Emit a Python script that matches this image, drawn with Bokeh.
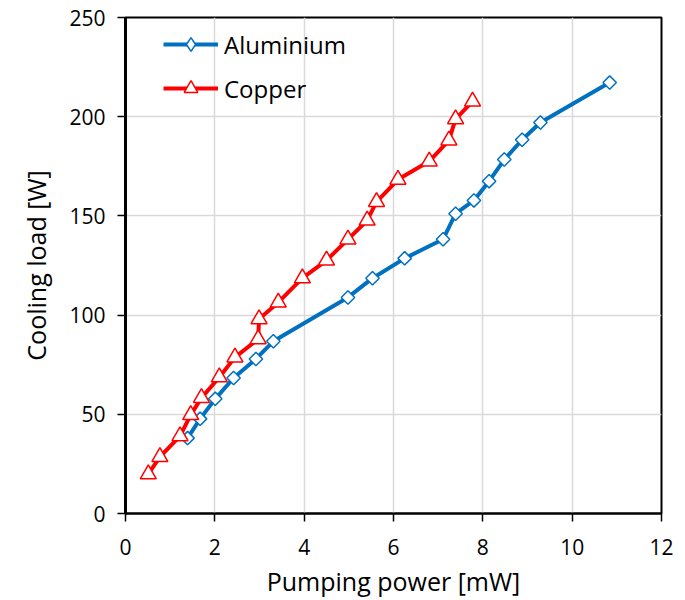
import math
from bokeh.plotting import figure
from bokeh.models import Legend, LegendItem, Range1d, FixedTicker, ColumnDataSource
from bokeh.embed import file_html
from bokeh.resources import INLINE

al_x = [1.39, 1.67, 2.01, 2.42, 2.92, 3.31, 4.98, 5.53, 6.25, 7.11, 7.39, 7.80, 8.14, 8.48, 8.88, 9.29, 10.84]
al_y = [38.0, 47.7, 57.8, 68.3, 77.9, 86.8, 108.9, 118.6, 128.6, 138.2, 151.1, 157.8, 167.5, 178.4, 188.4, 197.1, 217.2]

cu_x = [0.51, 0.77, 1.22, 1.46, 1.70, 2.10, 2.45, 2.97, 2.99, 3.42, 3.96, 4.50, 4.98, 5.41, 5.62, 6.10, 6.80, 7.24, 7.39, 7.77]
cu_y = [19.8, 28.5, 39.0, 49.7, 58.3, 68.7, 78.7, 87.9, 98.0, 106.4, 118.6, 127.6, 138.2, 147.7, 157.1, 168.3, 177.5, 188.1, 198.8, 207.7]

x_ticks = [0, 2, 4, 6, 8, 10, 12]
y_ticks = [0, 50, 100, 150, 200, 250]

FONT = "Open Sans"
BLUE = "#0070C0"
RED = "#FF0000"

p = figure(width=685, height=600, output_backend="svg", toolbar_location=None,
           x_range=Range1d(0, 12), y_range=Range1d(0, 250),
           min_border_left=125, min_border_right=24, min_border_top=17, min_border_bottom=85)

p.outline_line_color = "black"
p.outline_line_width = 2

for ax in (p.xaxis[0], p.yaxis[0]):
    ax.axis_line_color = "black"
    ax.major_tick_line_color = "black"
    ax.major_tick_line_width = 1.5
    ax.major_tick_out = 8
    ax.major_tick_in = 0
    ax.minor_tick_line_color = None
    ax.major_label_text_font = FONT
    ax.major_label_text_font_size = "21px"
    ax.major_label_text_color = "black"
    ax.axis_label_text_font = FONT
    ax.axis_label_text_font_size = "25px"
    ax.axis_label_text_font_style = "normal"
    ax.axis_label_text_color = "black"

p.xaxis.axis_line_width = 2
p.yaxis.axis_line_width = 3
p.xaxis.ticker = FixedTicker(ticks=x_ticks)
p.yaxis.ticker = FixedTicker(ticks=y_ticks)
p.xaxis.axis_label = "Pumping power [mW]"
p.yaxis.axis_label = "Cooling load [W]"
p.xaxis.major_label_standoff = 17
p.yaxis.major_label_standoff = 12
p.xaxis.axis_label_standoff = 6
p.yaxis.axis_label_standoff = 13

p.grid.grid_line_color = "#d9d9d9"
p.grid.grid_line_width = 1.5

al_src = ColumnDataSource(data=dict(x=al_x, y=al_y))
cu_src = ColumnDataSource(data=dict(x=cu_x, y=cu_y))

l1 = p.line("x", "y", source=al_src, line_color=BLUE, line_width=4)
# diamond renderer used for the legend swatch; in the plot it sits hidden under the square diamonds
m1_leg = p.scatter("x", "y", source=al_src, marker="diamond", size=8,
                   fill_color="white", line_color=BLUE, line_width=1.5)
p.scatter("x", "y", source=al_src, marker="square", angle=math.pi / 4, size=9.5,
          fill_color="white", line_color=BLUE, line_width=1.5)
l2 = p.line("x", "y", source=cu_src, line_color=RED, line_width=4)
m2 = p.scatter("x", "y", source=cu_src, marker="triangle", size=16,
               fill_color="white", line_color=RED, line_width=1.5)

legend = Legend(items=[LegendItem(label="Aluminium", renderers=[l1, m1_leg]),
                       LegendItem(label="Copper", renderers=[l2, m2])],
                location=(38, 408), orientation="vertical",
                glyph_width=55, glyph_height=34, label_height=20, spacing=10,
                padding=0, margin=0, label_standoff=6,
                border_line_color=None, background_fill_alpha=0,
                label_text_font=FONT, label_text_font_size="24px", label_text_color="black")
p.add_layout(legend, "center")

open("out.html", "w").write(file_html(p, INLINE))
